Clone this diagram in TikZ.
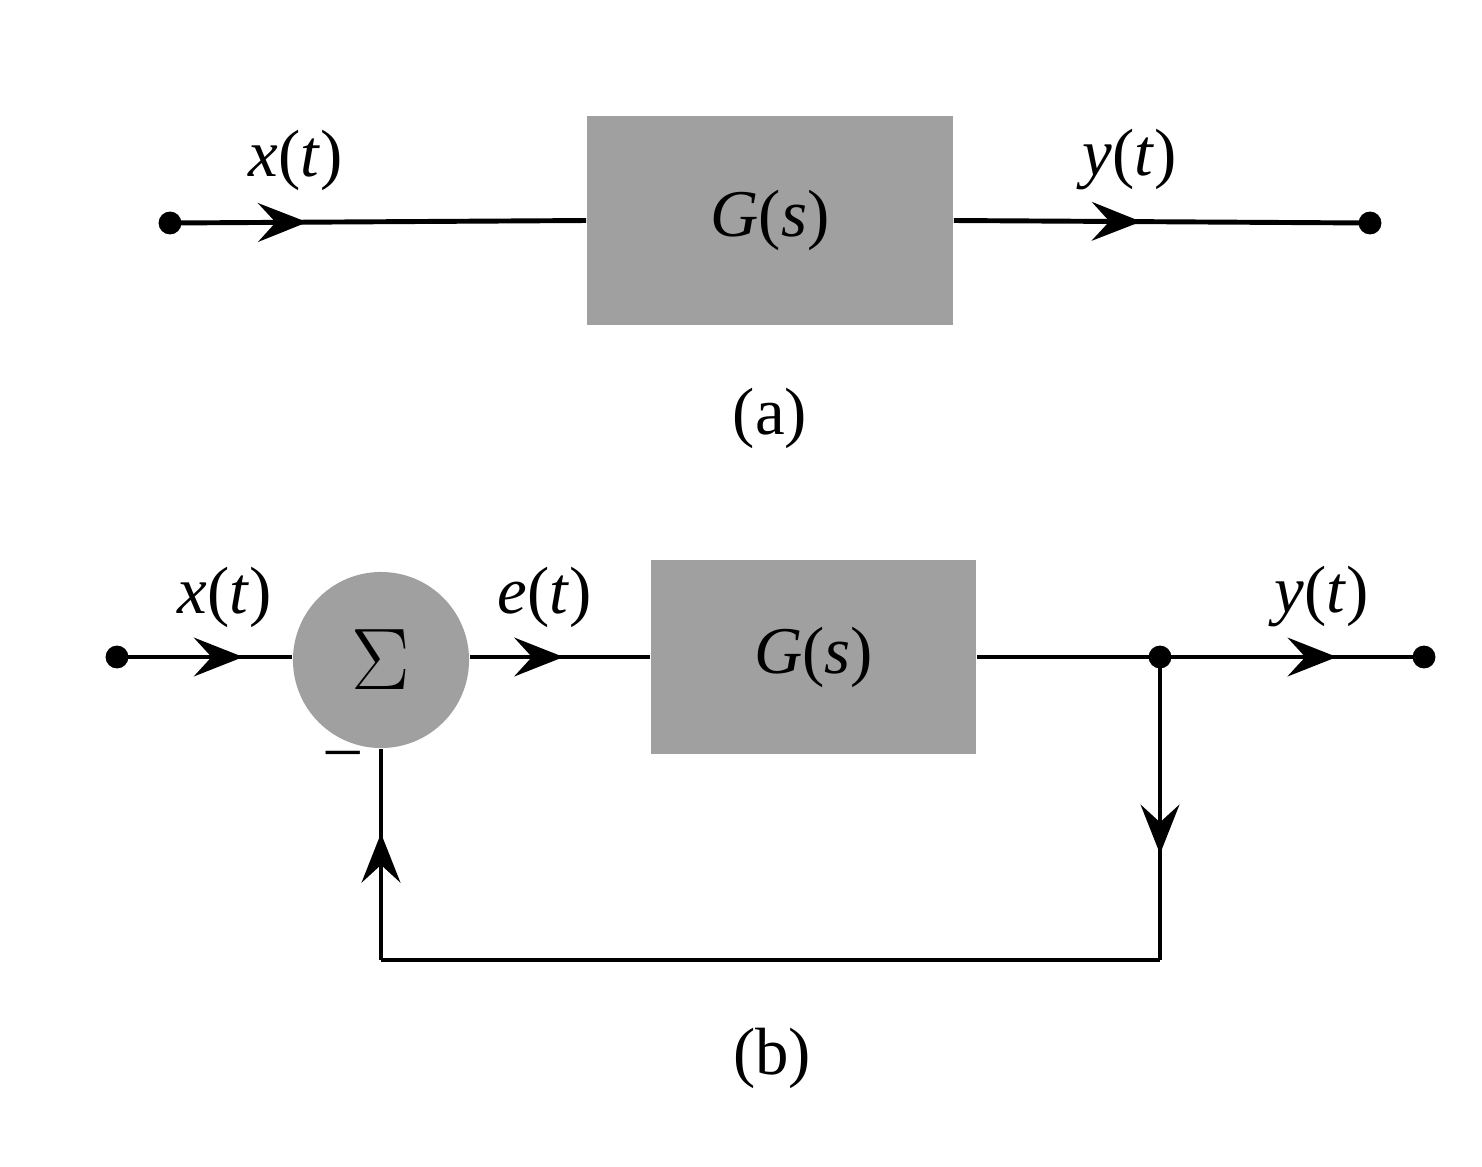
\documentclass[tikz,border=0pt]{standalone}
\usepackage{fontspec}
\setmainfont{Liberation Serif}
\usetikzlibrary{arrows.meta,decorations.markings}
\definecolor{blockgray}{HTML}{A0A0A0}
\tikzset{
  wire/.style={line width=1.4pt},
  block/.style={fill=blockgray,draw=none,minimum width=#1},
  dot/.style={circle,fill=black,inner sep=0pt,minimum size=6.5pt},
  lbl/.style={font=\fontsize{19}{22}\selectfont},
  arrowat/.style={postaction={decorate},decoration={markings,
    mark=at position #1 with {\arrow{Stealth[length=14pt,width=11pt,inset=5pt]}}}}
}
\begin{document}
\begin{tikzpicture}[x=0.01cm,y=-0.01cm]
  \useasboundingbox (0,0) rectangle (1482,1166);
  % (a)
  \node[dot] (ain) at (170,223) {};
  \node[dot] (aout) at (1370,223) {};
  \node[block=366\dimexpr0.01cm\relax,minimum width=3.66cm,minimum height=2.09cm] (ga) at (770,220.5) {};
  \node[lbl] at (ga) {\textit{G}(\textit{s})};
  \draw[wire,arrowat=0.33] (ain.center) -- (ga.west);
  \draw[wire,arrowat=0.45] (ga.east) -- (aout.center);
  \node[lbl] (xa) at (296,160) {\textit{x}(\textit{t})};
  \node[lbl] (ya) at (1130,160) {\textit{y}(\textit{t})};
  \node[lbl] (capa) at (770,418) {(a)};
  % (b)
  \node[dot] (bin) at (117,657) {};
  \node[circle,fill=blockgray,minimum size=1.76cm,inner sep=0pt,font=\fontsize{30}{34}\selectfont] (sum) at (381,660) {$\Sigma$};
  \node[block,minimum width=3.25cm,minimum height=1.94cm] (gb) at (813.5,657) {};
  \node[lbl] at (gb) {\textit{G}(\textit{s})};
  \node[dot] (jn) at (1160,657) {};
  \node[dot] (bout) at (1424,657) {};
  \coordinate (cr) at (1160,960);
  \coordinate (cl) at (381,960);
  \draw[wire,arrowat=0.72] (bin.center) -- (sum.west |- bin);
  \draw[wire,arrowat=0.52] (sum.east |- bin) -- (gb.west);
  \draw[wire] (gb.east) -- (jn.center);
  \draw[wire,arrowat=0.67] (jn.center) -- (bout.center);
  \draw[wire,arrowat=0.65] (jn.center) -- (cr);
  \draw[wire] (cr) -- (cl);
  \draw[wire,arrowat=0.6] (cl) -- (sum.south);
  \node[lbl] (minus) at (343,760) {--};
  \node[lbl] (xb) at (225,597) {\textit{x}(\textit{t})};
  \node[lbl] (eb) at (545,597) {\textit{e}(\textit{t})};
  \node[lbl] (yb) at (1322,597) {\textit{y}(\textit{t})};
  \node[lbl] (capb) at (772,1058) {(b)};
\end{tikzpicture}
\end{document}
